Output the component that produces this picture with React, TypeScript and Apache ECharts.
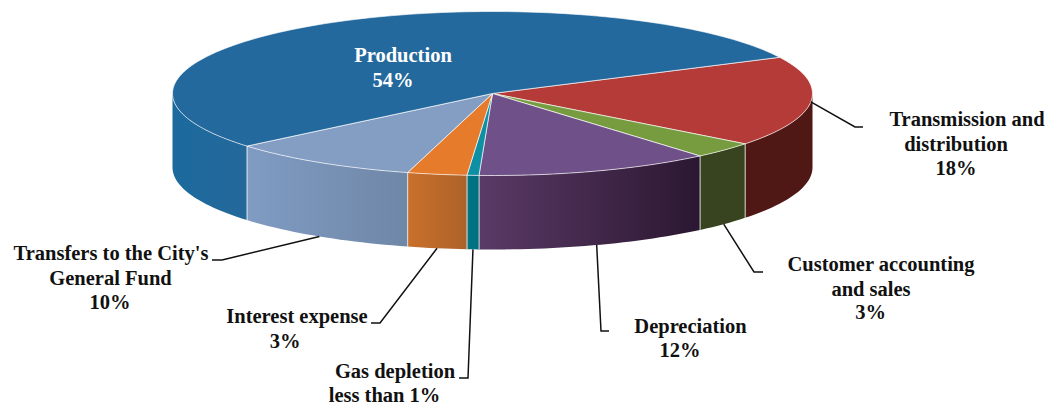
import React, { useEffect, useRef } from "react";
import * as echarts from "echarts";

// Data (shares of the pie, in display order, clockwise)
const categories = [
  "Transmission and distribution",
  "Customer accounting and sales",
  "Depreciation",
  "Gas depletion",
  "Interest expense",
  "Transfers to the City's General Fund",
  "Production",
];
const values = [17.8, 3.25, 11.9, 0.6, 3.0, 9.65, 53.8];
const labelLines = [
  ["Transmission and", "distribution", "18%"],
  ["Customer accounting", "and sales", "3%"],
  ["Depreciation", "12%"],
  ["Gas depletion", "less than 1%"],
  ["Interest expense", "3%"],
  ["Transfers to the City's", "General Fund", "10%"],
  ["Production", "54%"],
];

// Styles
const topColors = ["#b53b38", "#769c3f", "#6f5088", "#0e8fa3", "#e57b2b", "#839dc3", "#24699d"];
const wallGradients = [
  ["#4f1814", "#4f1814"],
  ["#37441f", "#37441f"],
  ["#5a3a66", "#2b1731"],
  ["#007585", "#007080"],
  ["#c9702c", "#ad6229"],
  ["#809cc3", "#6f87a7"],
  ["#1b6a9e", "#25689a"],
];

// Layout
const CX = 492.5;
const CY = 93.5;
const RX = 320;
const RY = 82;
const DEPTH = 74;
const START_DEG = 63.8;
const leaderOnTop = [true, false, false, false, false, false, false];
const leaderPaths: number[][][] = [
  [[855, 127], [863, 127]],
  [[754, 272], [763, 272]],
  [[601, 331], [609, 331]],
  [[468, 378], [459, 378]],
  [[380, 323], [371, 323]],
  [[222, 260], [212, 260]],
  [],
];
const textX = [
  [967, 956, 956],
  [881, 871, 870.5],
  [690.5, 680],
  [395, 384.5],
  [297, 285],
  [111, 110.5, 110],
  [403, 393],
];
const textY = [
  [119, 144, 168],
  [264, 289, 312],
  [326, 350],
  [371, 394.5],
  [316, 341],
  [253, 278, 302],
  [55, 80],
];
const FONT_SIZE = 20.5;

const total = values.reduce((a, b) => a + b, 0);
const rad = (d: number) => (d * Math.PI) / 180;
const pt = (deg: number, dy = 0) => [
  CX + RX * Math.sin(rad(deg)),
  CY - RY * Math.cos(rad(deg)) + dy,
];
const arc = (a: number, b: number, dy = 0) => {
  const n = Math.max(2, Math.ceil(Math.abs(b - a) / 1.5));
  const out: number[][] = [];
  for (let i = 0; i <= n; i++) out.push(pt(a + ((b - a) * i) / n, dy));
  return out;
};

function renderItem(params: any, api: any) {
  const i = params.dataIndex;
  const before = values.slice(0, i).reduce((a, b) => a + b, 0);
  const a = START_DEG + (before / total) * 360;
  const b = a + (api.value(0) / total) * 360;
  const mid = (a + b) / 2;
  const children: any[] = [];

  const wa = Math.max(a, 90);
  const wb = Math.min(b, 270);
  if (wb > wa) {
    children.push({
      type: "polygon",
      silent: true,
      shape: { points: [...arc(wa, wb, 0), ...arc(wb, wa, DEPTH)] },
      style: {
        fill: new echarts.graphic.LinearGradient(0, 0, 1, 0, [
          { offset: 0, color: wallGradients[i][0] },
          { offset: 1, color: wallGradients[i][1] },
        ]),
      },
    });
    [a, b].forEach((d) => {
      if (d >= 90 && d <= 270) {
        const p = pt(d);
        children.push({
          type: "line",
          silent: true,
          shape: { x1: p[0], y1: p[1], x2: p[0], y2: p[1] + DEPTH },
          style: { stroke: "rgba(255,255,255,0.6)", lineWidth: 1 },
        });
      }
    });
  }

  children.push({
    type: "polygon",
    silent: true,
    shape: { points: [[CX, CY], ...arc(a, b)] },
    style: { fill: topColors[i], stroke: "rgba(255,255,255,0.65)", lineWidth: 1 },
  });

  if (leaderPaths[i].length) {
    const s = pt(mid, leaderOnTop[i] ? 0 : DEPTH);
    children.push({
      type: "polyline",
      silent: true,
      shape: { points: [s, ...leaderPaths[i]] },
      style: { fill: "none", stroke: "#111111", lineWidth: 1.5 },
    });
  }

  labelLines[i].forEach((line, k) => {
    children.push({
      type: "text",
      silent: true,
      x: textX[i][k],
      y: textY[i][k],
      style: {
        text: line,
        fill: i === values.length - 1 ? "#ffffff" : "#111111",
        font: `bold ${FONT_SIZE}px "Liberation Serif"`,
        textAlign: "center",
        textVerticalAlign: "middle",
      },
    });
  });
  return { type: "group", children };
}

export default function App() {
  const ref = useRef<HTMLDivElement>(null);
  useEffect(() => {
    const chart = echarts.init(ref.current!, null, { renderer: "svg" });
    chart.setOption({
      animation: false,
      backgroundColor: "#ffffff",
      series: [
        {
          type: "custom",
          coordinateSystem: "none",
          silent: true,
          clip: false,
          renderItem,
          data: values.map((v, i) => ({ name: categories[i], value: [v, i] })),
        },
      ],
    });
    return () => chart.dispose();
  }, []);
  return (
    <div
      ref={ref}
      style={{ position: "fixed", left: 0, top: 0, width: 1049, height: 405 }}
    />
  );
}
